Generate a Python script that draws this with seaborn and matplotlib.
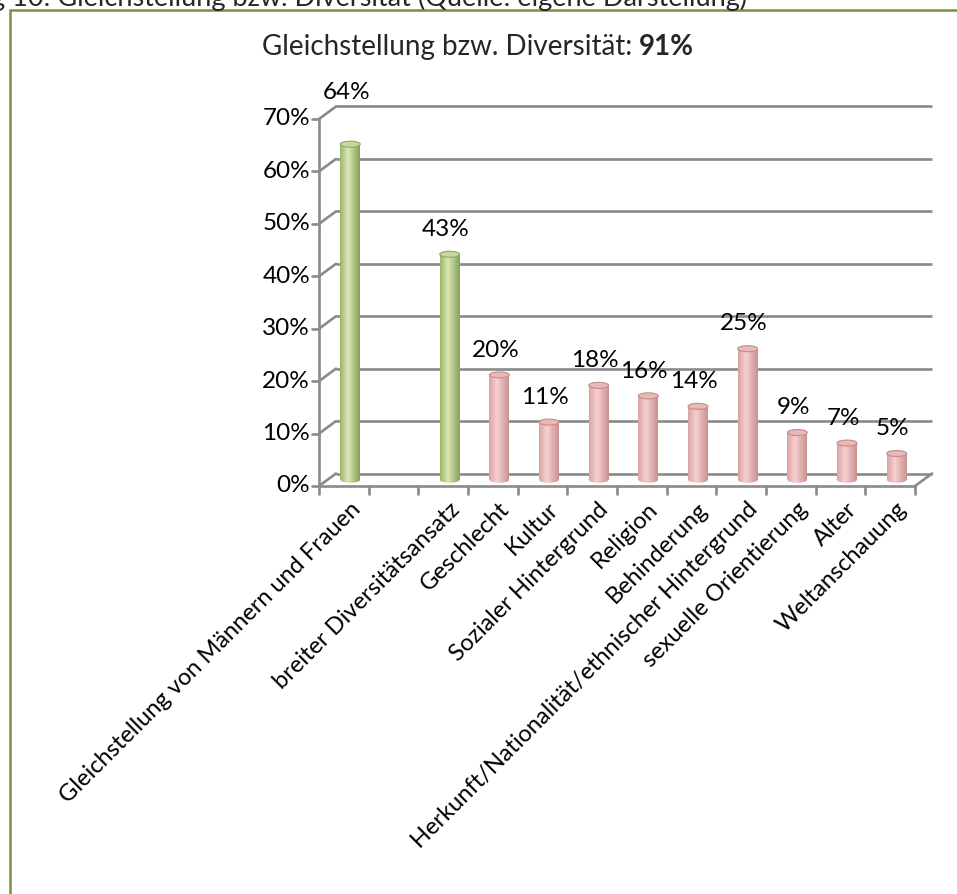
import numpy as np
import pandas as pd
import matplotlib
matplotlib.use("Agg")
import matplotlib.pyplot as plt
import seaborn as sns
from matplotlib.patches import Ellipse, Rectangle
from matplotlib.colors import LinearSegmentedColormap

# ---------------- data ----------------
categories = ["Gleichstellung von Männern und Frauen", "", "breiter Diversitätsansatz",
              "Geschlecht", "Kultur", "Sozialer Hintergrund", "Religion", "Behinderung",
              "Herkunft/Nationalität/ethnischer Hintergrund", "sexuelle Orientierung",
              "Alter", "Weltanschauung"]
values = [64, np.nan, 43, 20, 11, 18, 16, 14, 25, 9, 7, 5]
groups = ["Gleichstellung", "", "Gleichstellung", "Diversität", "Diversität", "Diversität",
          "Diversität", "Diversität", "Diversität", "Diversität", "Diversität", "Diversität"]
value_labels = ["64%", "", "43%", "20%", "11%", "18%", "16%", "14%", "25%", "9%", "7%", "5%"]
y_ticks = [0, 10, 20, 30, 40, 50, 60, 70]
y_tick_labels = ["0%", "10%", "20%", "30%", "40%", "50%", "60%", "70%"]
title_main = "Gleichstellung bzw. Diversität: "
title_total = "91%"
caption = "Abbildung 10: Gleichstellung bzw. Diversität (Quelle: eigene Darstellung)"

# ---------------- styling / layout ----------------
sns.set_theme(style="white")
plt.rcParams["font.family"] = ["Lato", "DejaVu Sans"]
FS = 17.5
FS_CAT = 17
FS_TITLE = 20

W, H, DPI = 957, 894, 100
SLOT_PX = 49.67          # pixel width of a category slot
AX_X_PX = 319            # front value axis x (pixel)
BASE_Y_PX = 486          # 0% on the front axis (pixel from top)
PPY = 5.243              # pixels per percent
DDX = 17 / SLOT_PX       # depth offset (x, data units)
DDY = 12.5 / PPY         # depth offset (y, data units)

X0 = -0.5 - AX_X_PX / SLOT_PX
X1 = -0.5 + (W - AX_X_PX) / SLOT_PX
Y1 = BASE_Y_PX / PPY
Y0 = -(H - BASE_Y_PX) / PPY

fig = plt.figure(figsize=(W / DPI, H / DPI), dpi=DPI)
fig.patch.set_facecolor("white")
ax = fig.add_axes([0, 0, 1, 1])

grid_c = "#8A8A8A"
grid_lw = 1.9
n = len(categories)
x_left, x_right = -0.5, n - 0.5

# back-wall gridlines and side-wall diagonals
for g, gl in zip(y_ticks, y_tick_labels):
    ax.plot([x_left + DDX, x_right + DDX], [g + DDY, g + DDY], color=grid_c, lw=grid_lw,
            zorder=1, solid_capstyle="butt")
    ax.plot([x_left, x_left + DDX], [g, g + DDY], color=grid_c, lw=grid_lw, zorder=1)
    ax.plot([x_left - 7 / SLOT_PX, x_left], [g, g], color=grid_c, lw=grid_lw, zorder=1)
    ax.text(x_left - 9 / SLOT_PX, g, gl, ha="right", va="center", fontsize=FS, color="black")
# front value axis
ax.plot([x_left, x_left], [0, y_ticks[-1]], color=grid_c, lw=grid_lw, zorder=1)
# floor front edge, right diagonal, category ticks
ax.plot([x_left, x_right], [0, 0], color=grid_c, lw=grid_lw, zorder=1)
ax.plot([x_right, x_right + DDX], [0, DDY], color=grid_c, lw=grid_lw, zorder=1)
for k in range(n + 1):
    ax.plot([x_left + k, x_left + k], [0, -8 / PPY], color=grid_c, lw=grid_lw, zorder=1)

# ---------------- cylinders via seaborn ----------------
BAR_DX = 0.13
BASE = DDY / 2
df = pd.DataFrame({"pos": np.arange(n) + BAR_DX, "value": values, "group": groups})
df_bars = df.dropna(subset=["value"])
palette = {"Gleichstellung": "#C4D79B", "Diversität": "#E6B9B8"}
sns.barplot(data=df_bars, x="pos", y="value", hue="group", palette=palette,
            native_scale=True, width=0.40, dodge=False, errorbar=None, legend=False,
            ax=ax, zorder=3, linewidth=0)

shade = {
    "Gleichstellung": (["#9BB668", "#DAE7B8", "#86A254"], "#C6D99D", "#8DA95A"),
    "Diversität": (["#D9A4A3", "#F7D0D0", "#C99190"], "#EAB8B7", "#C48C8B"),
}
EH = 6 / PPY  # ellipse height in data units

bar_patches = [p for p in ax.patches if isinstance(p, Rectangle) and p.get_height() > 0]
for p in bar_patches:
    cx = p.get_x() + p.get_width() / 2
    idx = int(round(cx - BAR_DX))
    grp = groups[idx]
    stops, top_fc, top_ec = shade[grp]
    cmap = LinearSegmentedColormap.from_list("cyl", list(zip([0, 0.4, 1], stops)))
    p.set_y(BASE)
    p.set_facecolor("none")
    w = p.get_width()
    h = p.get_height()
    grad = np.linspace(0, 1, 128).reshape(1, -1)
    x0b = p.get_x()
    im = ax.imshow(grad, cmap=cmap, aspect="auto", extent=[x0b, x0b + w, BASE, BASE + h],
                   zorder=3, interpolation="bilinear")
    im.set_clip_path(p)
    bot = Ellipse((cx, BASE), w, EH, facecolor="none", edgecolor="none", zorder=3)
    ax.add_patch(bot)
    im2 = ax.imshow(grad, cmap=cmap, aspect="auto",
                    extent=[x0b, x0b + w, BASE - EH / 2, BASE + EH / 2],
                    zorder=3, interpolation="bilinear")
    im2.set_clip_path(bot)
    ax.add_patch(Ellipse((cx, BASE + h), w, EH, facecolor=top_fc, edgecolor=top_ec,
                         lw=0.8, zorder=4))

# value labels
for i, (v, lab) in enumerate(zip(values, value_labels)):
    if not lab:
        continue
    ly = v + 5.9
    if ly > y_ticks[-1] - 5:
        ly = y_ticks[-1] + 5
    ax.text(i + 0.05, ly, lab, ha="center", va="center", fontsize=FS, color="black", zorder=5)

# category labels
for i, cat in enumerate(categories):
    if not cat:
        continue
    ax.text(i + 0.26, -3.8, cat, rotation=45, rotation_mode="anchor", ha="right",
            va="center", fontsize=FS_CAT, color="black")

ax.set_xlim(X0, X1)
ax.set_ylim(Y0, Y1)
ax.set_axis_off()

# title with bold total
fig.canvas.draw()
r = fig.canvas.get_renderer()
ty = 1 - 47 / H
t1 = fig.text(0, ty, title_main, ha="left", va="center", fontsize=FS_TITLE)
t2 = fig.text(0, ty, title_total, ha="left", va="center", fontsize=FS_TITLE, fontweight="bold")
w1 = t1.get_window_extent(r).width
w2 = t2.get_window_extent(r).width
start = 478 - (w1 + w2) / 2
t1.set_x(start / W)
t2.set_x((start + w1) / W)

# caption (cut off at the top, as in the source document) and chart border
fig.text(747 / W, 1 - 6 / H, caption, ha="right", va="baseline", fontsize=19.5)
fig.patches.append(Rectangle((9.5 / W, -0.05), 1.1, 1 - 9.5 / H + 0.05,
                             transform=fig.transFigure, fill=False,
                             edgecolor="#77933C", lw=1.8))

fig.savefig("out.png", dpi=DPI, facecolor="white")
